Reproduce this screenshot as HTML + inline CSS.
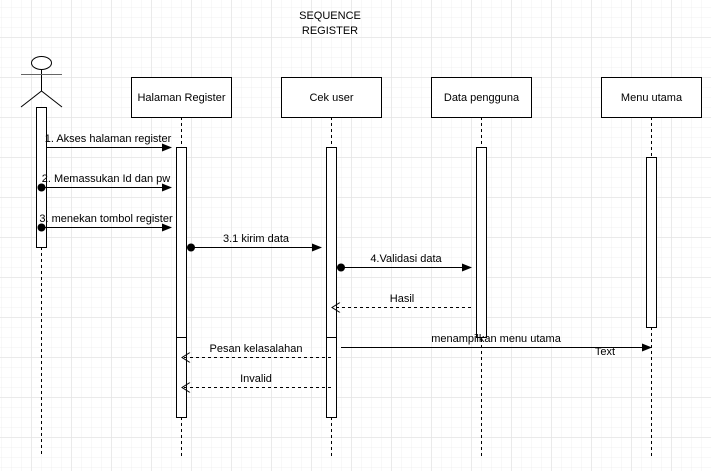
<!DOCTYPE html>
<html><head><style>
html,body{margin:0;padding:0;background:#fff;}
svg{display:block;}
text{font-family:"Liberation Sans",sans-serif;font-size:11px;fill:#000;}
</style></head><body>
<svg width="711" height="471" xmlns="http://www.w3.org/2000/svg">
<defs>
<pattern id="mi" width="10" height="10" patternUnits="userSpaceOnUse" x="1" y="7">
<path d="M0 0H10M0 0V10" stroke="#f1f1f1" stroke-width="1" fill="none"/>
</pattern>
<pattern id="ma" width="40" height="40" patternUnits="userSpaceOnUse" x="31.5" y="37.5">
<path d="M0 0H40M0 0V40" stroke="#e2e2e2" stroke-width="1" fill="none"/>
</pattern>
<marker id="fa" markerWidth="10" markerHeight="8" refX="9" refY="4" orient="auto" markerUnits="userSpaceOnUse"><path d="M0,0 L10,4 L0,8 Z" fill="#000"/></marker>
<marker id="oa" markerWidth="10" markerHeight="10" refX="9" refY="5" orient="auto" markerUnits="userSpaceOnUse"><path d="M1,0 L9,5 L1,10" fill="none" stroke="#000"/></marker>
</defs>
<rect width="711" height="471" fill="#fff"/>
<rect width="711" height="471" fill="url(#mi)"/>
<rect width="711" height="471" fill="url(#ma)"/>

<text x="330" y="19" text-anchor="middle">SEQUENCE</text>
<text x="330" y="34" text-anchor="middle">REGISTER</text>

<g stroke="#000" fill="none" stroke-dasharray="3,3">
<line x1="41.5" y1="247" x2="41.5" y2="457"/>
<line x1="181.5" y1="117" x2="181.5" y2="457"/>
<line x1="331.5" y1="117" x2="331.5" y2="457"/>
<line x1="481.5" y1="117" x2="481.5" y2="457"/>
<line x1="651.5" y1="117" x2="651.5" y2="457"/>
</g>

<g stroke="#000" fill="#fff">
<rect x="131.5" y="77.5" width="100" height="40"/>
<rect x="281.5" y="77.5" width="100" height="40"/>
<rect x="431.5" y="77.5" width="100" height="40"/>
<rect x="601.5" y="77.5" width="100" height="40"/>
<rect x="36.5" y="107.5" width="10" height="140"/>
<rect x="176.5" y="147.5" width="10" height="190"/>
<rect x="176.5" y="337.5" width="10" height="80"/>
<rect x="326.5" y="147.5" width="10" height="190"/>
<rect x="326.5" y="337.5" width="10" height="80"/>
<rect x="476.5" y="147.5" width="10" height="190"/>
<rect x="646.5" y="157.5" width="10" height="170"/>
</g>
<text x="181.5" y="101" text-anchor="middle" font-size="12">Halaman Register</text>
<text x="331.5" y="101" text-anchor="middle" font-size="12">Cek user</text>
<text x="481.5" y="101" text-anchor="middle" font-size="12">Data pengguna</text>
<text x="651.5" y="101" text-anchor="middle" font-size="12">Menu utama</text>

<g stroke="#000" fill="none">
<ellipse cx="41.5" cy="63" rx="10" ry="6.5" fill="#fff"/>
<line x1="41.5" y1="69.5" x2="41.5" y2="91"/>
<line x1="21" y1="74.5" x2="62" y2="74.5" stroke="#666"/>
<path d="M21 107 L41.5 91 L62 107"/>
</g>

<g stroke="#000" fill="none">
<line x1="47" y1="147.5" x2="171" y2="147.5" marker-end="url(#fa)"/>
<line x1="41" y1="187.5" x2="171" y2="187.5" marker-end="url(#fa)"/>
<line x1="41" y1="227.5" x2="171" y2="227.5" marker-end="url(#fa)"/>
<line x1="191" y1="247.5" x2="321" y2="247.5" marker-end="url(#fa)"/>
<line x1="341" y1="267.5" x2="471" y2="267.5" marker-end="url(#fa)"/>
<line x1="341" y1="347.5" x2="651" y2="347.5" marker-end="url(#fa)"/>
<g stroke-dasharray="3,3">
<line x1="471" y1="307.5" x2="332" y2="307.5" marker-end="url(#oa)"/>
<line x1="331" y1="357.5" x2="182" y2="357.5" marker-end="url(#oa)"/>
<line x1="331" y1="387.5" x2="182" y2="387.5" marker-end="url(#oa)"/>
</g>
</g>
<g fill="#000">
<circle cx="41.5" cy="187.5" r="4"/>
<circle cx="41.5" cy="227.5" r="4"/>
<circle cx="191" cy="247.5" r="4"/>
<circle cx="341" cy="267.5" r="4"/>
</g>

<text x="108" y="142" text-anchor="middle">1. Akses halaman register</text>
<text x="106" y="182" text-anchor="middle">2. Memassukan Id dan pw</text>
<text x="106" y="222" text-anchor="middle">3. menekan tombol register</text>
<text x="256" y="242" text-anchor="middle">3.1 kirim data</text>
<text x="406" y="262" text-anchor="middle">4.Validasi data</text>
<text x="402" y="302" text-anchor="middle">Hasil</text>
<text x="496" y="342" text-anchor="middle">menampilkan menu utama</text>
<rect x="594" y="348" width="22" height="9" fill="#fff"/>
<text x="605" y="355" text-anchor="middle">Text</text>
<text x="256" y="352" text-anchor="middle">Pesan kelasalahan</text>
<text x="256" y="382" text-anchor="middle">Invalid</text>
</svg>
</body></html>
